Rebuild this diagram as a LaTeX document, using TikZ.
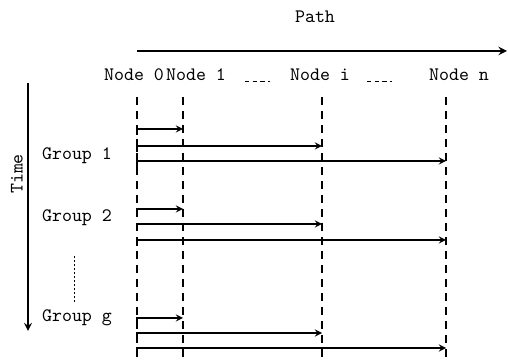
\documentclass[tikz,border=0pt]{standalone}
\begin{document}
\begin{tikzpicture}[x=0.5pt,y=-0.5pt,>=stealth,
    font=\ttfamily\fontsize{9.5}{11}\selectfont, line width=0.6pt]
  \useasboundingbox (0,0) rectangle (508,362);

  % Pad
  \node[anchor=base] (path) at (315,23) {Path};
  \coordinate (P0) at (137,51);
  \coordinate (P1) at (507,51);
  \draw[->, line width=0.9pt] (P0) -- (P1);

  % Knopen
  \node[anchor=base] (n0) at (134,81) {Node 0};
  \node[anchor=base] (n1) at (196,81) {Node 1};
  \node[anchor=base] (ni) at (320,81) {Node i};
  \node[anchor=base] (nn) at (459,81) {Node n};
  \draw[dash pattern=on 2.2pt off 1.6pt, line width=0.5pt] (245,82) -- (270,82);
  \draw[dash pattern=on 2.2pt off 1.6pt, line width=0.5pt] (367,82) -- (392,82);

  % Hulplijnen
  \foreach \x in {137,183,322,446}
    \draw[dash pattern=on 4pt off 3pt, line width=0.8pt] (\x,97) -- (\x,358);

  % Tijd
  \coordinate (T0) at (28,83);
  \coordinate (T1) at (28,331);
  \draw[->, line width=0.8pt] (T0) -- (T1);
  \node[rotate=90] (time) at (17,174) {Time};

  % Groepen
  \node[anchor=base] (g1) at (77,160) {Group 1};
  \node[anchor=base] (g2) at (77,222) {Group 2};
  \node[anchor=base] (gg) at (77,322) {Group g};
  \draw[dash pattern=on 1pt off 1pt, line width=0.5pt] (74,256) -- (74,302);

  % Pijlen per groep
  \foreach \ya/\yb/\yc in {129/146/161, 209/224/240, 318/333/348} {
    \draw[->] (137,\ya+6) |- (183,\ya);
    \draw[->] (137,\yb+6) |- (322,\yb);
    \draw[->] (137,\yc+6) |- (446,\yc);
  }

\end{tikzpicture}
\end{document}
